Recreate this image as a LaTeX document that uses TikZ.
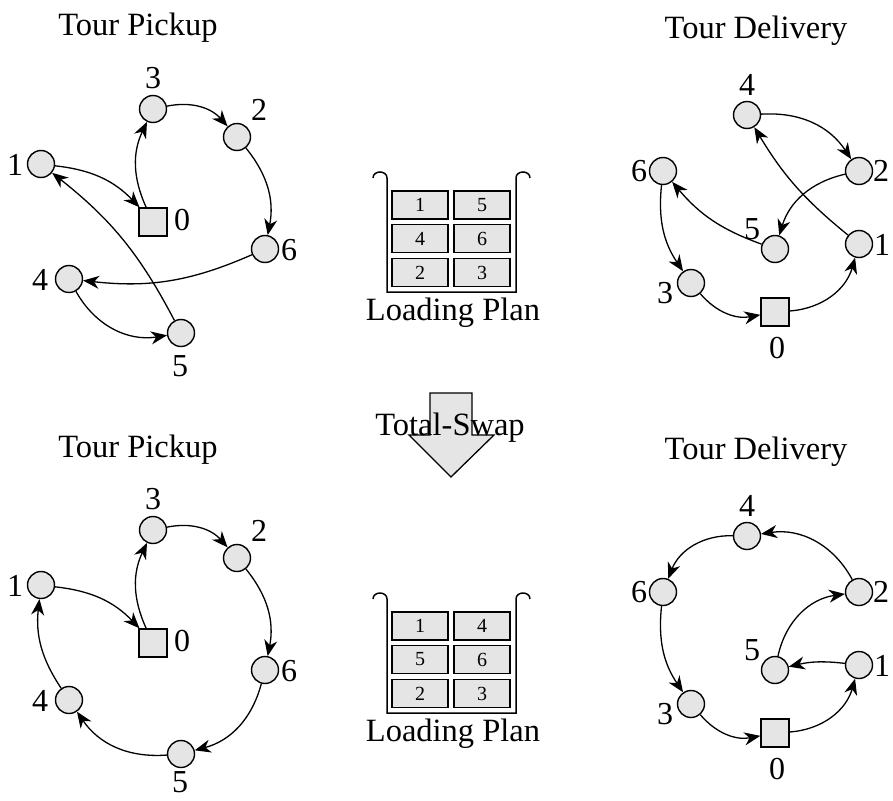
\documentclass[tikz,border=0pt]{standalone}
\usepackage{fontspec}
\setmainfont{Liberation Serif}
\usetikzlibrary{arrows.meta}
\begin{document}
\begin{tikzpicture}[x=1pt,y=-1pt,
  cnode/.style={circle,draw,fill=gray!20,line width=1.4pt,minimum size=27pt,inner sep=0pt},
  depot/.style={rectangle,draw,fill=gray!20,line width=1.4pt,minimum size=28pt,inner sep=0pt},
  lbl/.style={font=\fontsize{32}{36}\selectfont,inner sep=0pt},
  ttl/.style={font=\fontsize{32.5}{38}\selectfont,inner sep=0pt,anchor=base},
  edge/.style={-{Stealth[length=16pt,width=13pt,inset=5pt]},line width=1.3pt},
  cargo/.style={rectangle,draw,fill=gray!20,line width=1.3pt,minimum width=56pt,minimum height=28pt,inner sep=0pt,font=\fontsize{20}{24}\selectfont},
  bin/.style={line width=1.5pt},
  swap/.style={draw,fill=gray!20,line width=1.3pt}
]
\useasboundingbox (0,0) rectangle (893,800);

% ---------- titles ----------
\node[ttl] (t1) at (138,36) {Tour Pickup};
\node[ttl] (t2) at (756,39) {Tour Delivery};
\node[ttl] (t3) at (138,457) {Tour Pickup};
\node[ttl] (t4) at (756,459) {Tour Delivery};

% ---------- top-left: pickup ----------
\node[cnode] (A3) at (153,109) {};
\node[cnode] (A2) at (237,137) {};
\node[cnode] (A1) at (41,164) {};
\node[depot] (A0) at (153,222) {};
\node[cnode] (A6) at (265,249) {};
\node[cnode] (A4) at (69,279) {};
\node[cnode] (A5) at (181,333) {};
\node[lbl] (lA3) at (153,78) {3};
\node[lbl] (lA2) at (259,110) {2};
\node[lbl] (lA1) at (15,165) {1};
\node[lbl] (lA0) at (182,220) {0};
\node[lbl] (lA6) at (289,250) {6};
\node[lbl] (lA4) at (40,280) {4};
\node[lbl] (lA5) at (180,366) {5};
\draw[edge] (A1) to[bend left=20] (A0);
\draw[edge] (A0) to[bend left=25] (A3);
\draw[edge] (A3) to[bend left=30] (A2);
\draw[edge] (A2) to[bend left=25] (A6);
\draw[edge] (A6) to[bend left=15] (A4);
\draw[edge] (A4) to[bend right=35] (A5);
\draw[edge] (A5) to[bend right=12] (A1);

% ---------- top-right: delivery ----------
\node[cnode] (B4) at (747,115) {};
\node[cnode] (B2) at (859,171) {};
\node[cnode] (B6) at (663,171) {};
\node[cnode] (B5) at (775,249) {};
\node[cnode] (B1) at (859,244) {};
\node[cnode] (B3) at (691,283) {};
\node[depot] (B0) at (775,312) {};
\node[lbl] (lB4) at (747,85) {4};
\node[lbl] (lB2) at (881,171) {2};
\node[lbl] (lB6) at (639,171) {6};
\node[lbl] (lB5) at (752,229) {5};
\node[lbl] (lB1) at (882,245) {1};
\node[lbl] (lB3) at (665,293) {3};
\node[lbl] (lB0) at (777,348) {0};
\draw[edge] (B4) to[bend left=30] (B2);
\draw[edge] (B2) to[bend right=30] (B5);
\draw[edge] (B5) to[bend left=15] (B6);
\draw[edge] (B6) to[bend right=20] (B3);
\draw[edge] (B3) to[bend right=30] (B0);
\draw[edge] (B0) to[bend right=35] (B1);
\draw[edge] (B1) to[bend left=10] (B4);

% ---------- top loading plan ----------
\draw[bin] (373,178) .. controls (373,170) and (387,170) .. (387,178) -- (387,292) -- (516,292) -- (516,178) .. controls (516,170) and (530,170) .. (530,178);
\node[cargo] (p11) at (420,205) {1};
\node[cargo] (p12) at (482,205) {5};
\node[cargo] (p21) at (420,238.5) {4};
\node[cargo] (p22) at (482,238.5) {6};
\node[cargo] (p31) at (420,272.5) {2};
\node[cargo] (p32) at (482,272.5) {3};
\node[ttl] (lp1) at (453,320) {Loading Plan};

% ---------- swap arrow ----------
\draw[swap] (430,393) -- (472,393) -- (472,435) -- (494,435) -- (451,477) -- (409,435) -- (430,435) -- cycle;
\node[ttl] (sw) at (450,435) {Total-Swap};

% ---------- bottom-left: pickup ----------
\node[cnode] (C3) at (153,530) {};
\node[cnode] (C2) at (237,558) {};
\node[cnode] (C1) at (41,585) {};
\node[depot] (C0) at (153,643) {};
\node[cnode] (C6) at (265,670) {};
\node[cnode] (C4) at (69,700) {};
\node[cnode] (C5) at (181,754) {};
\node[lbl] (lC3) at (153,499) {3};
\node[lbl] (lC2) at (259,531) {2};
\node[lbl] (lC1) at (15,586) {1};
\node[lbl] (lC0) at (182,641) {0};
\node[lbl] (lC6) at (289,671) {6};
\node[lbl] (lC4) at (40,701) {4};
\node[lbl] (lC5) at (180,782) {5};
\draw[edge] (C1) to[bend left=20] (C0);
\draw[edge] (C0) to[bend left=25] (C3);
\draw[edge] (C3) to[bend left=30] (C2);
\draw[edge] (C2) to[bend left=25] (C6);
\draw[edge] (C6) to[bend left=30] (C5);
\draw[edge] (C5) to[bend left=30] (C4);
\draw[edge] (C4) to[bend left=20] (C1);

% ---------- bottom-right: delivery ----------
\node[cnode] (D4) at (747,536) {};
\node[cnode] (D2) at (859,592) {};
\node[cnode] (D6) at (663,592) {};
\node[cnode] (D5) at (775,670) {};
\node[cnode] (D1) at (859,665) {};
\node[cnode] (D3) at (691,704) {};
\node[depot] (D0) at (775,733) {};
\node[lbl] (lD4) at (747,506) {4};
\node[lbl] (lD2) at (881,592) {2};
\node[lbl] (lD6) at (639,592) {6};
\node[lbl] (lD5) at (752,650) {5};
\node[lbl] (lD1) at (882,666) {1};
\node[lbl] (lD3) at (665,714) {3};
\node[lbl] (lD0) at (777,769) {0};
\draw[edge] (D2) to[bend right=35] (D4);
\draw[edge] (D4) to[bend right=35] (D6);
\draw[edge] (D6) to[bend right=20] (D3);
\draw[edge] (D3) to[bend right=30] (D0);
\draw[edge] (D0) to[bend right=35] (D1);
\draw[edge] (D1) to[bend right=10] (D5);
\draw[edge] (D5) to[bend left=35] (D2);

% ---------- bottom loading plan ----------
\draw[bin] (373,599) .. controls (373,591) and (387,591) .. (387,599) -- (387,713) -- (516,713) -- (516,599) .. controls (516,591) and (530,591) .. (530,599);
\node[cargo] (q11) at (420,626) {1};
\node[cargo] (q12) at (482,626) {4};
\node[cargo] (q21) at (420,659.5) {5};
\node[cargo] (q22) at (482,659.5) {6};
\node[cargo] (q31) at (420,693.5) {2};
\node[cargo] (q32) at (482,693.5) {3};
\node[ttl] (lp2) at (453,741) {Loading Plan};
\end{tikzpicture}
\end{document}
